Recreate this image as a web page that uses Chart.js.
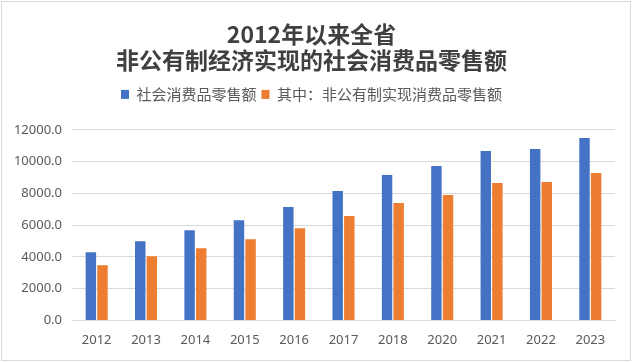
<!DOCTYPE html>
<html>
<head>
<meta charset="utf-8">
<script src="https://cdn.jsdelivr.net/npm/chart.js@4"></script>
<style>
  body { margin: 0; background: #fff; }
  #wrap { position: absolute; left: 1px; top: 1px; width: 628px; height: 358px; border: 1px solid #d9d9d9; }
</style>
</head>
<body>
<div id="wrap"><canvas id="chart" width="628" height="358"></canvas></div>
<script>
// 年份
const years = ['2012', '2013', '2014', '2015', '2016', '2017', '2018', '2020', '2021', '2022', '2023'];
// 社会消费品零售额
const totalRetail = [4295, 4990, 5685, 6315, 7140, 8150, 9160, 9725, 10675, 10800, 11495];
// 其中：非公有制实现消费品零售额
const privateRetail = [3475, 4045, 4550, 5115, 5810, 6570, 7390, 7895, 8655, 8715, 9285];

const titleLines = ['2012年以来全省', '非公有制经济实现的社会消费品零售额'];
const legendLabels = ['社会消费品零售额', '其中：非公有制实现消费品零售额'];

const cjk = '"Noto Sans CJK SC", "Microsoft YaHei", sans-serif';
const tickFont = { family: '"Noto Sans", "Liberation Sans", sans-serif', size: 13 };

// 图例下方留出更多空白
const legendGap = {
    id: 'legendGap',
    beforeLayout(chart) {
        const lg = chart.legend;
        if (lg && !lg._gapPatched) {
            const orig = lg.fit;
            lg.fit = function () {
                orig.call(this);
                this.height += 18;
            };
            lg._gapPatched = true;
        }
    }
};

const ctx = document.getElementById('chart').getContext('2d');
new Chart(ctx, {
    type: 'bar',
    data: {
        labels: years,
        datasets: [{
            label: legendLabels[0],
            data: totalRetail,
            backgroundColor: '#4472c4',
            barPercentage: 0.9,
            categoryPercentage: 0.47
        }, {
            label: legendLabels[1],
            data: privateRetail,
            backgroundColor: '#ed7d31',
            barPercentage: 0.9,
            categoryPercentage: 0.47
        }]
    },
    plugins: [legendGap],
    options: {
        responsive: false,
        animation: false,
        layout: { padding: { left: 6, right: 15, top: 19, bottom: 0 } },
        plugins: {
            title: {
                display: true,
                text: titleLines,
                color: '#404040',
                font: { family: cjk, size: 23, weight: 'bold', lineHeight: 1.15 },
                padding: { top: 0, bottom: 8 }
            },
            legend: {
                position: 'top',
                labels: {
                    color: '#595959',
                    font: { family: cjk, size: 15 },
                    boxWidth: 8,
                    boxHeight: 9,
                    padding: 5
                }
            },
            tooltip: { enabled: false }
        },
        scales: {
            x: {
                grid: { display: false, drawTicks: false },
                border: { color: '#d9d9d9' },
                ticks: { color: '#595959', font: tickFont, padding: 12 }
            },
            y: {
                min: 0,
                max: 12000,
                afterFit: (scale) => { scale.width = 64; },
                grid: { color: '#d9d9d9', drawTicks: false },
                border: { display: false },
                ticks: {
                    stepSize: 2000,
                    color: '#595959',
                    font: tickFont,
                    padding: 10,
                    callback: (v) => Number(v).toFixed(1)
                }
            }
        }
    }
});
</script>
</body>
</html>
